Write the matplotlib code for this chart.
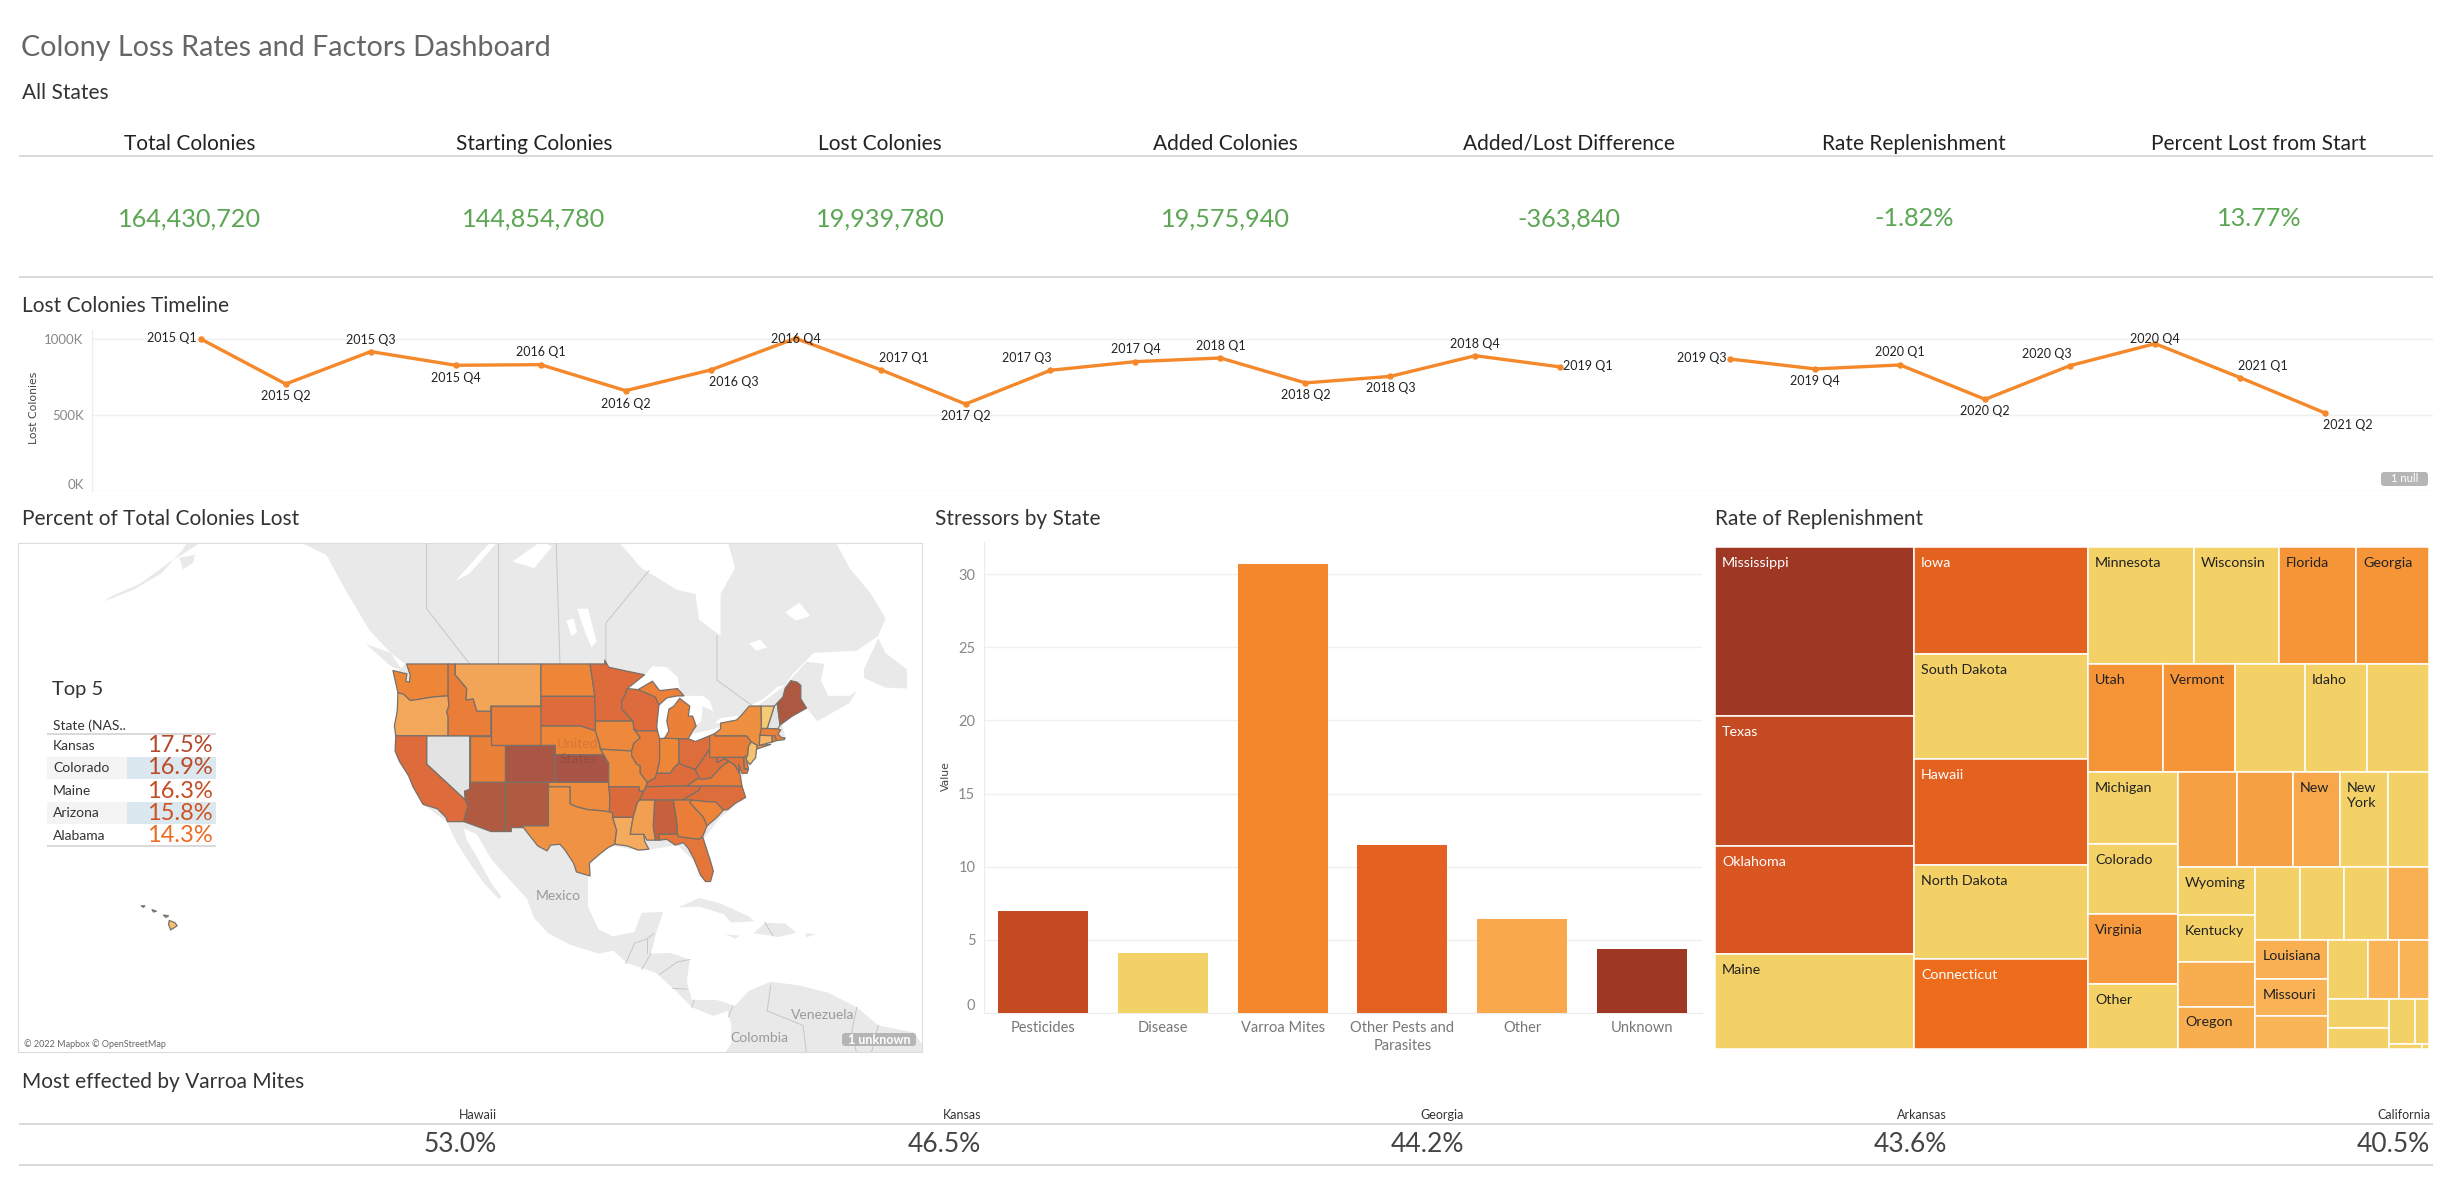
import math
import numpy as np
import matplotlib
matplotlib.use("Agg")
import matplotlib.pyplot as plt
from matplotlib.colors import LinearSegmentedColormap
from matplotlib.patches import Polygon, Rectangle, FancyBboxPatch

# ---------------- data ----------------
KPI_NAMES = ["Total Colonies", "Starting Colonies", "Lost Colonies", "Added Colonies",
             "Added/Lost Difference", "Rate Replenishment", "Percent Lost from Start"]
KPI_VALUES = ["164,430,720", "144,854,780", "19,939,780", "19,575,940", "-363,840", "-1.82%", "13.77%"]

QUARTERS = ["2015 Q1", "2015 Q2", "2015 Q3", "2015 Q4", "2016 Q1", "2016 Q2", "2016 Q3", "2016 Q4",
            "2017 Q1", "2017 Q2", "2017 Q3", "2017 Q4", "2018 Q1", "2018 Q2", "2018 Q3", "2018 Q4",
            "2019 Q1", None, "2019 Q3", "2019 Q4", "2020 Q1", "2020 Q2", "2020 Q3", "2020 Q4",
            "2021 Q1", "2021 Q2"]
LOST_K = [1000, 704, 917, 827, 831, 660, 796, 1004, 798, 572, 794, 851, 875, 711, 754, 890,
          816, np.nan, 868, 803, 829, 603, 825, 969, 746, 513]
LABEL_OFFSETS = [(-29, -1), (0, 12), (0, -12), (0, 13), (0, -13), (0, 13), (23, 12), (0, 1),
                 (23, -12), (0, 12), (-24, -12), (0, -13), (0, -12), (0, 12), (0, 12), (0, -12),
                 (27, -1), (0, 0), (-28, -1), (0, 12), (0, -13), (0, 12), (-23, -12), (0, -5),
                 (23, -12), (23, 12)]

STRESSORS = ["Pesticides", "Disease", "Varroa Mites", "Other Pests and\nParasites", "Other", "Unknown"]
STRESS_VALUES = [6.97, 4.1, 30.7, 11.5, 6.43, 4.38]
STRESS_COLORS = ["#c44a21", "#f2d166", "#f4862b", "#e36221", "#f9a94c", "#9e3724"]

TOP_STATES = ["Kansas", "Colorado", "Maine", "Arizona", "Alabama"]
TOP_VALUES = [17.5, 16.9, 16.3, 15.8, 14.3]
TOP_COLORS = ["#b5492b", "#bd4a27", "#c54d24", "#cf5322", "#ed6b20"]

VARROA_STATES = ["Hawaii", "Kansas", "Georgia", "Arkansas", "California"]
VARROA_VALUES = [53.0, 46.5, 44.2, 43.6, 40.5]

STATE_LOSS = {"WA": 11, "OR": 8.3, "CA": 13, "ID": 11.7, "MT": 8.5, "WY": 11.7, "UT": 11.5, "CO": 16.9,
              "AZ": 15.8, "NM": 15.9, "ND": 11, "SD": 13, "NE": 11, "KS": 17.5, "OK": 10.5, "TX": 10,
              "MN": 13, "IA": 10.7, "MO": 10.5, "AR": 13.2, "LA": 8, "WI": 13, "IL": 12, "IN": 11,
              "OH": 12.9, "MI": 11.5, "MIU": 11.5, "KY": 13, "TN": 13, "WV": 12.8, "VA": 12, "NC": 12.9,
              "SC": 11.2, "GA": 11.7, "AL": 14.3, "MS": 9, "FL": 12.3, "PA": 11.8, "NY": 10.2, "VT": 5,
              "ME": 16.3, "MA": 11.5, "CT": 7, "RI": 12, "NJ": 6, "DE": 12, "MD": 12.5,
              "HI1": 6, "HI2": 6, "HI3": 6, "HI4": 6}

STATE_SHAPES = {
 "WA": [(-124.7,48.4),(-123.2,48.15),(-122.75,48.1),(-122.9,47.4),(-122.4,47.3),(-122.3,48),(-122.8,49),(-117,49),(-117,46),(-119,45.9),(-121.2,45.65),(-122.3,45.55),(-123.2,46.15),(-124,46.3)],
 "OR": [(-124,46.3),(-123.2,46.15),(-122.3,45.55),(-121.2,45.65),(-119,45.9),(-117,46),(-116.9,45),(-117.2,44.4),(-117,44),(-117,42),(-124.3,42),(-124.5,43),(-124.1,44.5)],
 "CA": [(-124.3,42),(-120,42),(-120,39),(-114.6,35),(-114.2,34.3),(-114.7,33),(-114.8,32.5),(-117.1,32.5),(-117.3,33),(-118.5,34),(-120.5,34.5),(-121.9,36.5),(-122.5,37.7),(-123.8,39.3),(-124.4,40.4)],
 "ID": [(-117,49),(-116,49),(-116,48),(-114.4,46.7),(-114.5,45.6),(-113.5,45.7),(-113,44.5),(-111.05,44.5),(-111.05,42),(-117,42),(-117,44),(-117.2,44.4),(-116.9,45),(-117,46)],
 "MT": [(-116,49),(-104.05,49),(-104.05,45),(-111.05,45),(-111.05,44.5),(-113,44.5),(-113.5,45.7),(-114.5,45.6),(-114.4,46.7),(-116,48)],
 "WY": [(-111.05,45),(-104.05,45),(-104.05,41),(-111.05,41)],
 "UT": [(-114,42),(-111.05,42),(-111.05,41),(-109.05,41),(-109.05,37),(-114,37)],
 "CO": [(-109.05,41),(-102.05,41),(-102.05,37),(-109.05,37)],
 "AZ": [(-114,37),(-109.05,37),(-109.05,31.33),(-111,31.33),(-114.8,32.5),(-114.7,33),(-114.2,34.3),(-114.6,35),(-114.7,36),(-114,36.2)],
 "NM": [(-109.05,37),(-103,37),(-103,32),(-106.6,32),(-106.5,31.8),(-108.2,31.8),(-108.2,31.33),(-109.05,31.33)],
 "ND": [(-104.05,49),(-97.2,49),(-96.6,46.3),(-96.55,45.95),(-104.05,45.95)],
 "SD": [(-104.05,45.95),(-96.55,45.95),(-96.45,43.5),(-96.45,42.5),(-98.5,43),(-104.05,43)],
 "NE": [(-104.05,43),(-98.5,43),(-96.45,42.5),(-95.9,41.2),(-95.75,40.6),(-95.3,40),(-102.05,40),(-102.05,41),(-104.05,41)],
 "KS": [(-102.05,40),(-95.3,40),(-94.6,39.1),(-94.6,37),(-102.05,37)],
 "OK": [(-103,37),(-94.6,37),(-94.45,35.4),(-94.5,33.65),(-96,33.8),(-97.5,33.9),(-99,34.2),(-100,34.56),(-100,36.5),(-103,36.5)],
 "TX": [(-103,36.5),(-100,36.5),(-100,34.56),(-99,34.2),(-97.5,33.9),(-96,33.8),(-94.5,33.65),(-94.05,33.5),(-94.05,33),(-93.5,31.5),(-93.75,29.8),(-94.7,29.4),(-96,28.5),(-97.3,27.5),(-97.2,25.9),(-99.1,26.4),(-99.5,27.5),(-100.7,29.1),(-101.4,29.8),(-102.7,29.7),(-103.2,29),(-104.5,29.6),(-106.5,31.8),(-106.6,32),(-103,32)],
 "MN": [(-97.2,49),(-95.15,49),(-95.15,49.35),(-94.6,48.7),(-92.5,48.4),(-89.6,48),(-92,46.7),(-92.3,46.1),(-92.8,45.5),(-92.75,44.7),(-91.2,43.5),(-96.45,43.5),(-96.55,45.95),(-96.6,46.3)],
 "IA": [(-96.45,43.5),(-91.2,43.5),(-91.1,42.7),(-90.2,41.8),(-91.1,41.2),(-91.4,40.4),(-95.75,40.6),(-95.9,41.2),(-96.45,42.5)],
 "MO": [(-95.75,40.6),(-91.4,40.4),(-91.4,39.9),(-90.7,39),(-90.2,38.8),(-90.2,38),(-89.5,37.3),(-89.2,37),(-89.4,36.5),(-89.7,36),(-90.3,36),(-90.4,36.5),(-94.6,36.5),(-94.6,39.1),(-95.3,40)],
 "AR": [(-94.6,36.5),(-90.4,36.5),(-90.3,36),(-89.7,36),(-90.3,35),(-90.6,34.7),(-91.2,33),(-94.05,33),(-94.05,33.5),(-94.5,33.65),(-94.45,35.4)],
 "LA": [(-94.05,33),(-91.2,33),(-91.6,31),(-89.7,31),(-89.6,30.2),(-89,29.2),(-90.5,29.1),(-92,29.6),(-93.75,29.8),(-93.5,31.5)],
 "WI": [(-92,46.7),(-90.5,46.6),(-88.1,45.9),(-87.6,45.1),(-87.9,43),(-87.8,42.5),(-90.6,42.5),(-91.1,42.7),(-91.2,43.5),(-92.75,44.7),(-92.8,45.5),(-92.3,46.1)],
 "IL": [(-90.6,42.5),(-87.8,42.5),(-87.5,41.7),(-87.5,39.3),(-87.9,38),(-88.1,37.5),(-89.2,37),(-89.5,37.3),(-90.2,38),(-90.2,38.8),(-90.7,39),(-91.4,39.9),(-91.4,40.4),(-91.1,41.2),(-90.2,41.8),(-91.1,42.7)],
 "IN": [(-87.5,41.7),(-86.8,41.76),(-84.8,41.7),(-84.8,39.1),(-85.5,38.6),(-86,38),(-87.9,38),(-87.5,39.3)],
 "OH": [(-84.8,41.7),(-83.5,41.7),(-82.5,41.4),(-80.52,42),(-80.52,40.6),(-81.7,39.3),(-82.5,38.4),(-84,38.8),(-84.8,39.1)],
 "MI": [(-86.8,41.76),(-84.8,41.7),(-83.5,41.7),(-82.9,42.5),(-82.4,43),(-82.9,44),(-83.5,44),(-83.3,45),(-84.7,45.75),(-85.5,45),(-86.2,44.7),(-86.5,43.5),(-86.2,42.5)],
 "MIU": [(-90.5,46.6),(-88.5,47.4),(-87.5,46.5),(-85,46.7),(-84.1,46),(-85,46),(-86.5,45.8),(-87.6,45.1),(-88.1,45.9)],
 "KY": [(-89.4,36.5),(-89.2,37),(-88.1,37.5),(-87.9,38),(-86,38),(-85.5,38.6),(-84.8,39.1),(-84,38.8),(-82.5,38.4),(-82,37.5),(-83.7,36.6)],
 "TN": [(-90.3,35),(-89.7,36),(-89.4,36.5),(-83.7,36.6),(-81.7,36.6),(-82,36.1),(-84.3,35)],
 "WV": [(-82.5,38.4),(-81.7,39.3),(-80.52,40.6),(-80.52,39.72),(-79.48,39.72),(-79.48,39.2),(-78.4,39.6),(-77.8,39.3),(-78.9,38.7),(-80.3,37.5),(-81.7,37.3),(-82,37.5)],
 "VA": [(-83.7,36.6),(-82,37.5),(-81.7,37.3),(-80.3,37.5),(-78.9,38.7),(-77.8,39.3),(-77,38.9),(-76.3,37.9),(-76,36.55),(-81.7,36.6)],
 "NC": [(-84.3,35),(-82,36.1),(-81.7,36.6),(-76,36.55),(-75.5,35.3),(-77,34.6),(-78,33.9),(-78.6,33.85),(-79.7,34.8),(-80.8,34.8),(-83.1,35)],
 "SC": [(-83.1,35),(-80.8,34.8),(-79.7,34.8),(-78.6,33.85),(-79.5,33),(-80.9,32),(-81.4,33),(-83.3,34.7)],
 "GA": [(-85.6,35),(-83.1,35),(-83.3,34.7),(-81.4,33),(-80.9,32),(-81.5,30.7),(-82,30.4),(-84.9,30.7),(-85,31),(-85.2,33)],
 "AL": [(-88.2,35),(-85.6,35),(-85.2,33),(-85,31),(-87.6,31),(-87.5,30.3),(-88.1,30.3),(-88.4,31.9)],
 "MS": [(-91.2,33),(-90.6,34.7),(-90.3,35),(-88.2,35),(-88.4,31.9),(-88.1,30.3),(-89.3,30.3),(-89.7,31),(-91.6,31)],
 "FL": [(-87.6,31),(-85,31),(-84.9,30.7),(-82,30.4),(-81.5,30.7),(-80.5,28),(-80,26.5),(-80.4,25.2),(-81.1,25.2),(-81.8,26),(-82.7,28),(-83.5,29.3),(-84.2,30),(-85.3,29.7),(-86.5,30.4),(-87.5,30.3)],
 "PA": [(-80.52,42),(-79.76,42.25),(-79.76,42),(-75.35,42),(-74.7,41.36),(-75.1,40.9),(-75.2,40),(-75.8,39.72),(-80.52,39.72)],
 "NY": [(-79.76,42.25),(-79,42.7),(-79,43.3),(-76.8,43.6),(-76.2,44),(-75,45),(-73.35,45),(-73.3,43.6),(-73.3,42.75),(-73.5,42.05),(-73.6,41),(-72,41.1),(-74,40.6),(-73.9,41),(-74.7,41.36),(-75.35,42),(-79.76,42)],
 "VT": [(-73.35,45),(-71.5,45),(-72.5,42.75),(-73.3,42.75),(-73.3,43.6)],
 "ME": [(-71.1,45.3),(-70.3,45.9),(-70,46.7),(-69.2,47.45),(-68.3,47.3),(-67.8,47),(-67.8,45.7),(-67,44.8),(-69,44),(-70.7,43.1)],
 "MA": [(-73.5,42.05),(-73.3,42.75),(-72.5,42.75),(-71,42.7),(-70.6,42.6),(-71,42.2),(-70.5,41.8),(-70,41.8),(-70.1,41.6),(-71.2,41.5),(-71.4,42),(-71.8,42)],
 "CT": [(-73.5,42.05),(-71.8,42),(-71.8,41.35),(-73.6,41)],
 "RI": [(-71.8,42),(-71.4,42),(-71.2,41.5),(-71.8,41.35)],
 "NJ": [(-74.7,41.36),(-73.9,41),(-74,40.5),(-74.1,39.7),(-74.9,38.95),(-75.5,39.5),(-75.2,40),(-75.1,40.9)],
 "DE": [(-75.8,39.72),(-75.5,39.8),(-75.1,38.5),(-75.7,38.46)],
 "MD": [(-79.48,39.72),(-75.8,39.72),(-75.7,38.46),(-75.1,38.45),(-75.3,38),(-76,38),(-76.5,39),(-76.3,38),(-77,38.9),(-77.8,39.3),(-78.4,39.6),(-79.48,39.2)],
 "HI1": [(-155.9,20.2),(-155.1,19.9),(-154.8,19.5),(-155.7,18.95),(-156,19.7)],
 "HI2": [(-156.7,20.9),(-156,20.8),(-156.4,20.6)],
 "HI3": [(-158.3,21.6),(-157.7,21.4),(-158.1,21.3)],
 "HI4": [(-159.8,22.1),(-159.3,22.1),(-159.5,21.9)],
}
NO_DATA_SHAPES = {
 "NV": [(-120,42),(-114,42),(-114,36.2),(-114.7,36),(-114.6,35),(-120,39)],
 "NH": [(-71.5,45),(-71.1,45.3),(-70.7,43.1),(-71,42.7),(-72.5,42.75)],
}
LAND = [
 [(-140,62),(-138,59),(-134,58),(-131,55),(-128,52),(-125,50),(-123,49),(-124.5,48),(-124,46),(-124.5,42),(-124,40),(-122.5,37.5),(-120.5,34.5),(-117.2,32.5),(-115.8,30),(-114,27.5),(-112,25),(-110,23),(-109.5,23.2),(-111,25),(-112.5,27.5),(-114.5,30.5),(-114.8,31.7),(-113,31),(-111,28),(-109,26),(-106,23),(-105,20.5),(-103,18.5),(-100,17),(-96,15.8),(-94,16.2),(-92,14.5),(-88,13.2),(-85.5,11),(-83,8.5),(-80,7.3),(-78,8),(-77.5,6),(-77.5,3.5),(-78.5,2),(-78,-2),(-48,-2),(-50,2),(-52,5),(-57,6),(-60,8.5),(-64,10.5),(-68,11.5),(-72,12),(-75,10.8),(-77,8.7),(-79.5,9.5),(-83,9.5),(-83.7,12),(-83.3,15),(-86,15.9),(-88.7,15.8),(-88,18.5),(-87,21.3),(-90,21.2),(-91,18.7),(-94,18.1),(-96,19),(-97.5,22),(-97.5,25.8),(-97.2,28),(-94,29.6),(-90,29),(-85,29.7),(-83,28),(-81,25.2),(-80,26.8),(-81.3,30.5),(-79,33),(-76,35),(-76,37.5),(-74,40.5),(-71,41.5),(-70,42),(-70.5,43.5),(-67,44.8),(-65.5,43.5),(-61,45.3),(-60,46.5),(-61,46),(-64,46),(-65,47.5),(-64.5,49),(-67,49.2),(-70,47),(-69,48),(-66,50),(-60,50.2),(-57,51.5),(-56,53),(-58,55),(-61,57),(-63,59),(-65,62),(-78,62),(-78,59),(-77,57),(-79,55),(-79,51.5),(-82,52.9),(-82.5,55),(-85,55.3),(-90,57),(-93,58.8),(-94.7,59),(-95,62)],
 [(-59,47.7),(-56,46.8),(-53,46.7),(-53,48.5),(-56,50),(-57,51.3),(-59,48.5)],
 [(-84.9,21.9),(-82,23.1),(-79,22.4),(-75,20.7),(-74.3,20.1),(-77.5,19.9),(-78.5,21),(-82,22)],
 [(-74.4,18.5),(-72.8,19.9),(-70,19.8),(-68.4,18.6),(-71,18),(-72,18.2)],
 [(-78.3,18.4),(-76.3,18.2),(-77,17.8)],
 [(-67.2,18.5),(-65.7,18.4),(-67,18)],
 [(-128.5,50.8),(-125,50),(-123.4,48.4),(-125,48.8)],
 [(-152,60),(-150,59.4),(-153,58.4),(-156,57.4),(-160,55.8),(-164,54.8),(-165,54.4),(-161,55.3),(-157,56.6),(-154,58.4)],
 [(-154.5,57.8),(-152.3,58),(-152.6,57.4),(-154,56.9)],
 [(-148,60.5),(-144,60),(-140,59.7),(-139,59.2),(-148,59.9)],
]
LAKES = [
 [(-92,46.7),(-90.5,46.6),(-88.5,47.0),(-87.5,46.5),(-85,46.7),(-84.6,46.5),(-85,47.8),(-86.5,48.7),(-88.5,48.8),(-89.6,48)],
 [(-87.8,42.5),(-87.5,41.7),(-86.8,41.76),(-86.2,42.5),(-86.5,43.5),(-86.2,44.7),(-85.5,45),(-84.7,45.75),(-85,46),(-86.5,45.8),(-87.6,45.1),(-87.9,43)],
 [(-84.7,45.75),(-83.3,45),(-83.5,44),(-82.9,44),(-82.4,43),(-81.7,43.5),(-81.5,45),(-80,44.5),(-80.5,45.5),(-81.5,46),(-84.1,46)],
 [(-83.5,41.7),(-82.5,41.4),(-80.52,42),(-79,42.7),(-79,42.9),(-80.5,42.6),(-82.9,42.2)],
 [(-79.8,43.3),(-79,43.3),(-76.8,43.6),(-76.2,44),(-77,44),(-79,43.8)],
 [(-76.2,44),(-75,45),(-73,45.7),(-71,46.9),(-70,47),(-71,46.5),(-73.5,45.2),(-75.5,44.6)],
 [(-99,53.8),(-97.5,53.8),(-96.3,51),(-97,50.5),(-98,52)],
 [(-116,56),(-111,59),(-108,59.5),(-110,59),(-114,56.6)],
 [(-108,57.5),(-104,59),(-102.5,58.6),(-105,57)],
 [(-100.5,52.8),(-99.5,53),(-99,51.8),(-99.8,51.5)],
 [(-75,50.8),(-73.5,51.2),(-72.5,50.5),(-74,50.2)],
 [(-70,53.5),(-68,54.3),(-66.5,53.2),(-68.5,52.8)],
]
BORDERS = [
 [(-120,60),(-120,53.8),(-114,49)], [(-110,60),(-110,49)], [(-102,60),(-101.4,49)],
 [(-95,49),(-95,52.6),(-89,56.8)], [(-79.5,51.5),(-79.5,47.5),(-74.5,45)],
 [(-92.2,14.5),(-91,17.2),(-89.2,17.8),(-88.3,18.5)], [(-89.2,17.8),(-89.2,15.9)],
 [(-90,13.7),(-88.7,15.8)], [(-87.5,13),(-85,14.7),(-83.3,15)], [(-85.7,11.1),(-83.7,11)],
 [(-83,8.5),(-82.7,9.5)], [(-77.3,8.6),(-77.9,7.2)],
 [(-72,11.5),(-72.5,8),(-67.5,6),(-67,2)], [(-60,8.5),(-60.7,5.2),(-60,2)], [(-57,6),(-58,2)],
 [(-72.8,19.9),(-71.7,18.2)],
]

TREE_NAME, TREE_AREA, TREE_RATE = 0, 1, 2
TREEMAP = ("h", [
    ("v", [("Mississippi", 194.8, 1.0), ("Texas", 149.6, 0.8), ("Oklahoma", 124.1, 0.7), ("Maine", 108.9, 0.0)]),
    ("v", [("Iowa", 107.7, 0.6), ("South Dakota", 105.5, 0.0), ("Hawaii", 106.6, 0.6), ("North Dakota", 94.4, 0.0), ("Connecticut", 90.1, 0.5)]),
    ("v", [
        ("h", [("Minnesota", 71.8, 0.0), ("Wisconsin", 57.4, 0.0), ("Florida", 52.2, 0.3), ("Georgia", 49.2, 0.3)]),
        ("h", [("Utah", 47.0, 0.3), ("Vermont", 44.8, 0.3), ("", 43.9, 0.0), ("Idaho", 38.8, 0.0), ("", 38.5, 0.0)]),
        ("h", [
            ("v", [("Michigan", 37.4, 0.0), ("Colorado", 36.5, 0.0), ("Virginia", 36.5, 0.28), ("Other", 33.7, 0.0)]),
            ("v", [
                ("h", [("", 32.3, 0.25), ("", 30.5, 0.25), ("New", 25.7, 0.2), ("New\nYork", 26.2, 0.0), ("", 22.3, 0.0)]),
                ("h", [
                    ("v", [("Wyoming", 21.5, 0.0), ("Kentucky", 21.0, 0.0), ("", 19.6, 0.18), ("Oregon", 18.9, 0.18)]),
                    ("v", [
                        ("h", [("", 19.1, 0.0), ("", 18.5, 0.0), ("", 18.7, 0.0), ("", 17.2, 0.17)]),
                        ("h", [
                            ("v", [("Louisiana", 16.4, 0.17), ("Missouri", 15.6, 0.16), ("", 13.7, 0.15)]),
                            ("v", [
                                ("h", [("", 13.7, 0.0), ("", 10.6, 0.15), ("", 10.1, 0.15)]),
                                ("h", [
                                    ("v", [("", 10.0, 0.0), ("", 7.6, 0.0)]),
                                    ("v", [
                                        ("h", [("", 6.7, 0.0), ("", 3.5, 0.0)]),
                                        ("h", [("", 1.0, 0.0), ("", 0.2, 0.0)]),
                                    ]),
                                ]),
                            ]),
                        ]),
                    ]),
                ]),
            ]),
        ]),
    ]),
])

# ---------------- layout ----------------
W, H = 2450, 1181
plt.rcParams["font.family"] = ["Lato", "DejaVu Sans"]
fig = plt.figure(figsize=(W / 100, H / 100), dpi=100, facecolor="white")


def px_axes(x0, y0, x1, y1, **kw):
    return fig.add_axes([x0 / W, 1 - y1 / H, (x1 - x0) / W, (y1 - y0) / H], **kw)


ov = px_axes(0, 0, W, H, zorder=20)
ov.set_xlim(0, W)
ov.set_ylim(H, 0)
ov.axis("off")
ov.patch.set_alpha(0)


def T(x, y, s, size, color="#333333", ha="left", va="center", **kw):
    return ov.text(x, y, s, fontsize=size, color=color, ha=ha, va=va, **kw)


def hline(y, x0=19, x1=2433, color="#cfcfcf", lw=1.1):
    ov.plot([x0, x1], [y, y], color=color, lw=lw, solid_capstyle="butt")


# headers
T(21, 48, "Colony Loss Rates and Factors Dashboard", 20.6, "#666666")
T(22, 93, "All States", 15, "#333333")
T(22, 306, "Lost Colonies Timeline", 15, "#333333")
T(22, 519, "Percent of Total Colonies Lost", 15, "#333333")
T(935, 519, "Stressors by State", 15, "#333333")
T(1715, 519, "Rate of Replenishment", 15, "#333333")
T(22, 1082, "Most effected by Varroa Mites", 15, "#333333")

# KPI strip
KPI_X = [190, 534, 880, 1225, 1569, 1914, 2259]
for cx, name, val in zip(KPI_X, KPI_NAMES, KPI_VALUES):
    T(cx, 144, name, 15, "#222222", ha="center")
    T(cx, 219, val, 18.2, "#5ba653", ha="center")
hline(156)
hline(277)

# timeline
ax = px_axes(92, 330, 2433, 491)
x_idx = np.arange(len(LOST_K))
ax.plot(x_idx, LOST_K, color="#f5882a", lw=2.4, marker="o", ms=3.6, solid_joinstyle="round")
for i, (q, v, off) in enumerate(zip(QUARTERS, LOST_K, LABEL_OFFSETS)):
    if q is None:
        continue
    ax.annotate(q, (i, v), xytext=(off[0] * 0.72, -off[1] * 0.72), textcoords="offset points",
                ha="center", va="center", fontsize=9, color="#222222", annotation_clip=False)
ax.set_xlim(-1.28, 26.27)
ax.set_ylim(0, 1059)
ax.set_yticks([0, 500, 1000])
ax.set_yticklabels(["0K", "500K", "1000K"], fontsize=9.5, color="#888888")
ax.get_yticklabels()[0].set_verticalalignment("bottom")
ax.set_xticks([])
ax.tick_params(axis="y", length=0, pad=6)
ax.grid(axis="y", color="#efefef", lw=1)
ax.set_axisbelow(True)
for s in ["top", "right", "bottom"]:
    ax.spines[s].set_visible(False)
ax.spines["left"].set_color("#ececec")
T(34, 408, "Lost Colonies", 7.8, "#444444", ha="center", rotation=90, family="DejaVu Sans")
ov.add_patch(FancyBboxPatch((2383, 474), 43, 10, boxstyle="round,pad=2,rounding_size=3", fc="#b5b5b5", ec="none"))
T(2404.5, 479, "1 null", 8, "white", ha="center")


# map
def merc(lat):
    return math.degrees(math.log(math.tan(math.radians(45 + lat / 2))))


def project(pts):
    return [(lon, merc(lat)) for lon, lat in pts]


loss_cmap_stops = [(4, "#f4d27a"), (6, "#f6c270"), (8, "#f4ab5e"), (10, "#ef9243"), (11, "#ee8638"),
                   (12, "#e87b38"), (13, "#dd6b3c"), (14, "#d0623a"), (15, "#b55c40"), (16, "#ae5a41"),
                   (17.5, "#a85447")]
loss_cmap = LinearSegmentedColormap.from_list(
    "loss", [((v - 4) / 13.5, c) for v, c in loss_cmap_stops])

mp = px_axes(18, 542.5, 922, 1052)
mp.set_xlim(-177, -50.9)
mp.set_ylim(merc(2.3), merc(58.9))
mp.set_xticks([])
mp.set_yticks([])
for s in mp.spines.values():
    s.set_color("#dddddd")
for shape in LAND:
    mp.add_patch(Polygon(project(shape), fc="#e9e9e9", ec="none", zorder=1))
for shape in LAKES:
    mp.add_patch(Polygon(project(shape), fc="white", ec="none", zorder=2))
for line in BORDERS:
    xy = np.array(project(line))
    mp.plot(xy[:, 0], xy[:, 1], color="#c6c6c6", lw=0.7, zorder=3)
for name, shape in NO_DATA_SHAPES.items():
    mp.add_patch(Polygon(project(shape), fc="#e3e3e3", ec="#7c7c7c", lw=0.9, zorder=4))
for name, shape in STATE_SHAPES.items():
    col = loss_cmap((STATE_LOSS[name] - 4) / 13.5)
    mp.add_patch(Polygon(project(shape), fc=col, ec="#7a7068", lw=0.9, zorder=5, joinstyle="round"))

# map labels
T(578, 744, "United", 10, "#c2622e", ha="center", alpha=0.45)
T(578, 759, "States", 10, "#7a4030", ha="center", alpha=0.35)
T(558, 896, "Mexico", 10, "#9a9a9a", ha="center")
T(823, 1015, "Venezuela", 10, "#9a9a9a", ha="center")
T(759, 1038, "Colombia", 10, "#9a9a9a", ha="center")
T(24, 1044, "© 2022 Mapbox © OpenStreetMap", 6.5, "#666666")
ov.add_patch(FancyBboxPatch((844, 1035), 70, 9, boxstyle="round,pad=2,rounding_size=3", fc="#b5b5b5", ec="none"))
T(879, 1040, "1 unknown", 9, "white", ha="center", fontweight="bold")

# top five table
T(52, 690, "Top 5", 14.5, "#333333")
T(53, 726, "State (NAS..", 10, "#333333")
hline(734, 47, 216)
TOP_Y = [746, 768, 791, 813, 836]
for i, (st, v, c, y) in enumerate(zip(TOP_STATES, TOP_VALUES, TOP_COLORS, TOP_Y)):
    if i % 2 == 1:
        ov.add_patch(Rectangle((47, y - 11.3), 80, 22.6, fc="#f4f4f4", ec="none"))
        ov.add_patch(Rectangle((127, y - 11.3), 89, 22.6, fc="#dbe8ef", ec="none"))
    T(53, y, st, 10, "#333333")
    T(213, y, f"{v:.1f}%", 17, c, ha="right")
hline(846, 47, 216)

# stressor bars
br = px_axes(983.7, 542, 1702, 1013)
bx = np.arange(len(STRESSORS))
br.bar(bx, STRESS_VALUES, width=0.751, color=STRESS_COLORS, zorder=3)
br.set_xlim(-0.495, 5.5)
br.set_ylim(0, 32.2)
br.set_yticks([0, 5, 10, 15, 20, 25, 30])
br.set_yticklabels(["0", "5", "10", "15", "20", "25", "30"], fontsize=10.5, color="#888888")
br.get_yticklabels()[0].set_verticalalignment("bottom")
br.set_xticks(bx)
br.set_xticklabels(STRESSORS, fontsize=10.5, color="#777777", linespacing=1.35)
br.tick_params(axis="both", length=0, pad=6)
br.grid(axis="y", color="#f0f0f0", lw=1)
br.set_axisbelow(True)
for s in ["top", "right"]:
    br.spines[s].set_visible(False)
br.spines["left"].set_color("#ececec")
br.spines["bottom"].set_color("#ececec")
T(946, 776, "Value", 7.8, "#444444", ha="center", rotation=90, family="DejaVu Sans")

# treemap
tm_cmap = LinearSegmentedColormap.from_list("rate", [
    (0, "#f3d166"), (0.1, "#f6c25e"), (0.15, "#f9b457"), (0.2, "#f8a84a"), (0.25, "#f6a044"), (0.3, "#f69537"),
    (0.5, "#ec6c1c"), (0.6, "#e3621f"), (0.7, "#d95522"), (0.8, "#c44a21"), (1.0, "#9e3724")])
tm = px_axes(1715, 547, 2429, 1049)
tm.set_xlim(0, 1)
tm.set_ylim(1, 0)
tm.axis("off")


def area(node):
    if isinstance(node[1], list):
        return sum(area(c) for c in node[1])
    return node[TREE_AREA]


def draw_tree(node, x, y, w, h):
    if isinstance(node[1], list):
        total = area(node)
        pos = 0.0
        for child in node[1]:
            share = area(child) / total
            if node[0] == "h":
                draw_tree(child, x + pos * w, y, share * w, h)
            else:
                draw_tree(child, x, y + pos * h, w, share * h)
            pos += share
        return
    rate = node[TREE_RATE]
    tm.add_patch(Rectangle((x, y), w, h, fc=tm_cmap(rate), ec="white", lw=1.1))
    if node[TREE_NAME]:
        col = "white" if rate >= 0.5 else "#222222"
        tm.annotate(node[TREE_NAME], (x, y), xytext=(5, -7), textcoords="offset points",
                    fontsize=10.3, color=col, ha="left", va="top", linespacing=1.3)


draw_tree(TREEMAP, 0, 0, 1, 1)

# varroa strip
VARROA_X = [497, 981, 1464, 1947, 2430]
for xr, st, v in zip(VARROA_X, VARROA_STATES, VARROA_VALUES):
    T(xr, 1115, st, 9, "#333333", ha="right")
    T(xr, 1145, f"{v:.1f}%", 19, "#444444", ha="right")
hline(1124)
hline(1165)

fig.savefig("out.png", dpi=100, facecolor="white")
